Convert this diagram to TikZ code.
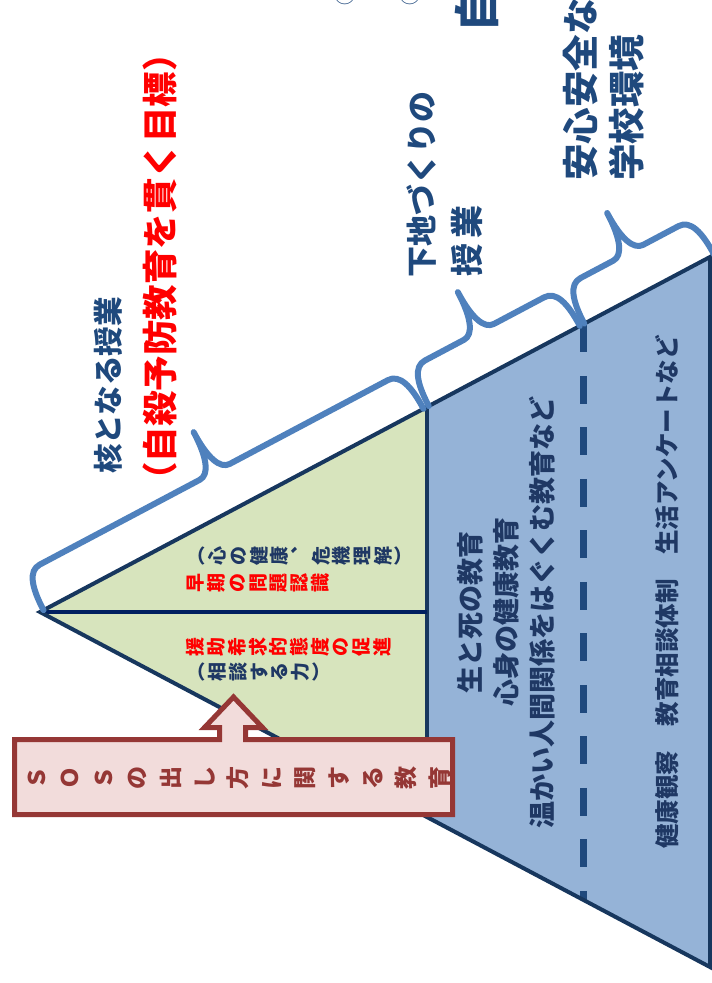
\documentclass[tikz,border=0pt]{standalone}
\usepackage{fontspec}
\setmainfont{Noto Sans CJK JP}
\usepackage{graphicx}
\definecolor{greenfill}{RGB}{215,228,189}
\definecolor{bluefill}{RGB}{149,179,215}
\definecolor{edgenavy}{RGB}{23,55,94}
\definecolor{midnavy}{RGB}{0,32,96}
\definecolor{dashblue}{RGB}{31,73,125}
\definecolor{braceblue}{RGB}{79,129,189}
\definecolor{labelblue}{RGB}{31,73,125}
\definecolor{textnavy}{RGB}{31,56,100}
\definecolor{sosfill}{RGB}{242,220,219}
\definecolor{sosred}{RGB}{149,55,53}
\definecolor{brightred}{RGB}{255,0,0}

\newcommand\rchar[1]{\rotatebox[origin=c]{90}{\raisebox{0pt}[0.88em][0.12em]{#1}}}
\ExplSyntaxOn
\NewDocumentCommand\vrow{O{0pt}m}
  {
    \tl_map_inline:nn {#2} { \rchar{##1} \hspace{#1} }
    \unskip
  }
\ExplSyntaxOff

\newcommand\bracedraw[3]{%
  \draw[bracestyle] (#1,0) .. controls (#1,-26) and ({#1+5},-42) .. ({#1+18},-42)
    -- ({#2-17},-42) .. controls ({#2-6},-42) and (#2,-58) .. (#2,-87)
    (#2,-87) .. controls (#2,-58) and ({#2+6},-42) .. ({#2+17},-42)
    -- ({#3-18},-42) .. controls ({#3-5},-42) and (#3,-26) .. (#3,0);}

\begin{document}
\begin{tikzpicture}[x=1pt,y=-1pt,
  bracestyle/.style={draw=braceblue, line width=6pt, line cap=round, line join=round},
  edgeline/.style={draw=edgenavy, line width=4pt, line join=miter},
  midline/.style={draw=midnavy, line width=4.5pt},
  dashline/.style={draw=dashblue, line width=7pt, dash pattern=on 28pt off 23.5pt},
  lbl/.style={inner sep=0pt, text=labelblue, rotate=90, anchor=west},
  redlbl/.style={inner sep=0pt, text=brightred, rotate=90, anchor=west},
  bodytxt/.style={inner sep=0pt, text=textnavy, rotate=90},
  rowtxt/.style={inner sep=0pt, anchor=west, font=\bfseries\fontsize{19}{19}\selectfont},
  sosbox/.style={draw=sosred, fill=sosfill, line width=5pt, line join=miter},
  frag/.style={inner sep=0pt, text=labelblue, rotate=90, anchor=west}]
\useasboundingbox (0,0) rectangle (712,983);
\clip (0,0) rectangle (712,983);

% pyramid
\coordinate (A) at (40,612);
\coordinate (B) at (427,406.9);
\coordinate (C) at (427,817.1);
\coordinate (D) at (710,257);
\coordinate (E) at (710,967);
\coordinate (F) at (583,324.3);
\coordinate (G) at (583,899.7);
\coordinate (M) at (427,612);
\fill[greenfill] (A) -- (B) -- (C) -- cycle;
\fill[bluefill] (B) -- (D) -- (E) -- (C) -- cycle;
\draw[dashline] (F) -- (G);
\draw[edgeline] (B) -- (C);
\draw[midline] (A) -- (M);
\draw[edgeline] (A) -- (D) -- (E) -- cycle;

% braces along the upper edge
\begin{scope}[shift={(40,612)}, rotate=27.92]
  \bracedraw{4}{220}{434}
  \bracedraw{440}{519}{611}
  \bracedraw{616}{688}{763}
\end{scope}

% SOS callout
\draw[sosbox] (14.5,739.5) -- (219.5,739.5) -- (219.5,727.5) -- (204.5,727.5)
  -- (233.5,697) -- (262.5,727.5) -- (245.5,727.5) -- (245.5,739.5)
  -- (452.5,739.5) -- (452.5,814.5) -- (14.5,814.5) -- cycle;
\node[inner sep=0pt, text=sosred, font=\bfseries\fontsize{23}{23}\selectfont] (sos) at (238,778)
  {\vrow[10.6pt]{ＳＯＳの出し方に関する教育}};

% labels above the braces
\node[lbl, font=\bfseries\fontsize{29.6}{30}\selectfont] (core) at (108.5,474) {核となる授業};
\node[redlbl, font=\bfseries\fontsize{35.5}{36}\selectfont] (goal) at (160,498) {（自殺予防教育を貫く目標）};
\node[lbl, font=\bfseries\fontsize{31}{31}\selectfont] (base1) at (422,278) {下地づくりの};
\node[lbl, font=\bfseries\fontsize{33}{33}\selectfont] (base2) at (466.5,277) {授\hspace{5pt}業};
\node[lbl, font=\bfseries\fontsize{36.5}{37}\selectfont] (env1) at (580.5,181) {安心安全な};
\node[lbl, font=\bfseries\fontsize{36.5}{37}\selectfont] (env2) at (626.5,181) {学校環境};

% green area rows
\node[rowtxt, text=textnavy] (g1) at (187,556) {\vrow[1.7pt]{︵心の健康︑危機理解︶}};
\node[rowtxt, text=brightred] (g2) at (186,583) {\vrow[1.7pt]{早期の問題認識}};
\node[rowtxt, text=brightred] (g3) at (186,647) {\vrow[1.7pt]{援助希求的態度の促進}};
\node[rowtxt, text=textnavy] (g4) at (187,672) {\vrow[1.7pt]{︵相談する力︶}};

% blue area texts
\node[bodytxt, align=center, font=\bfseries\fontsize{27}{36}\selectfont] (edu) at (506,612)
  {生と死の教育\\心身の健康教育\\温かい人間関係をはぐくむ教育など};
\node[bodytxt, font=\bfseries\fontsize{24.5}{25}\selectfont] (watch) at (667,592)
  {健康観察　教育相談体制　生活アンケートなど};

% clipped fragments at the top edge (cut off in the reference too)
\node[frag, font=\bfseries\fontsize{32}{32}\selectfont] (f1) at (170,22) {【};
\node[frag, font=\fontsize{22}{22}\selectfont] (f2) at (345,6) {①};
\node[frag, font=\fontsize{22}{22}\selectfont] (f3) at (410,6) {②};
\node[frag, font=\bfseries\fontsize{46}{46}\selectfont] (f4) at (477,32.5) {自};
\end{tikzpicture}
\end{document}
